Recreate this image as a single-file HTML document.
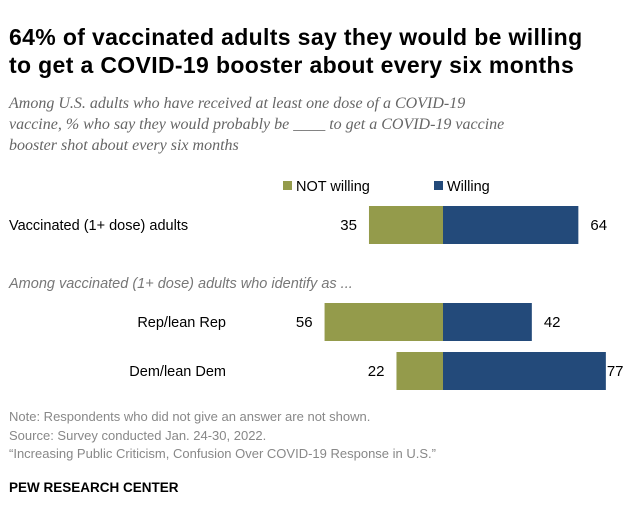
<!DOCTYPE html>
<html><head><meta charset="utf-8"><style>
body{margin:0;background:#fff;font-family:"Liberation Sans",Arial,sans-serif;}
#c{position:relative;width:640px;height:524px;overflow:hidden;}
.t{position:absolute;white-space:nowrap;}
</style></head><body>
<div id="c">
<div class="t" style="left:9px;top:23px;font-size:23px;letter-spacing:0.35px;font-weight:bold;color:#000;line-height:28px;">64% of vaccinated adults say they would be willing<br>to get a COVID-19 booster about every six months</div>
<div class="t" style="left:9px;top:93px;font-size:16px;font-style:italic;color:#666;line-height:21px;font-family:'Liberation Serif',serif;">Among U.S. adults who have received at least one dose of a COVID-19<br>vaccine, % who say they would probably be ____ to get a COVID-19 vaccine<br>booster shot about every six months</div>
<svg id="s" width="640" height="524" style="position:absolute;left:0;top:0;"></svg>
<div class="t" style="left:9px;top:276px;font-size:14.5px;font-style:italic;color:#777;">Among vaccinated (1+ dose) adults who identify as ...</div>
<div class="t" style="left:9px;top:408px;font-size:13px;color:#888;line-height:18.5px;">Note: Respondents who did not give an answer are not shown.<br>Source: Survey conducted Jan. 24-30, 2022.<br>“Increasing Public Criticism, Confusion Over COVID-19 Response in U.S.”</div>
<div class="t" style="left:9px;top:480px;font-size:13.5px;font-weight:bold;color:#000;">PEW RESEARCH CENTER</div>
</div>
<script>
const categories=["Vaccinated (1+ dose) adults","Rep/lean Rep","Dem/lean Dem"];
const notWilling=[35,56,22];
const willing=[64,42,77];
const NS="http://www.w3.org/2000/svg";
const svg=document.getElementById('s');
const center=443, scale=2.115;
const rowTop=[206,303,352], barH=38;
const labelRight=[226,226,226];
function x(v){return v*scale;}
function mk(tag,attrs){const e=document.createElementNS(NS,tag);for(const k in attrs)e.setAttribute(k,attrs[k]);svg.appendChild(e);return e;}
let e=mk('rect',{x:283,y:181,width:9,height:9,fill:'#949b4b'});


e=mk('text',{x:296,y:191,'font-size':14.5,fill:'#000','font-family':'Liberation Sans, sans-serif'});e.textContent='NOT willing';


e=mk('rect',{x:434,y:181,width:9,height:9,fill:'#234a7a'});


e=mk('text',{x:447,y:191,'font-size':14.5,fill:'#000','font-family':'Liberation Sans, sans-serif'});e.textContent='Willing';


categories.forEach((c,i)=>{
  const y=rowTop[i], cy=y+barH/2+5;
  let t=mk('text',{x:i==0?9:labelRight[i],y:cy,'font-size':14.5,fill:'#000','text-anchor':i==0?'start':'end','font-family':'Liberation Sans, sans-serif'});
  t.textContent=c;
  
  
  const wn=x(notWilling[i]);
  let r=mk('rect',{x:center-wn,y:y,width:wn,height:barH,fill:'#949b4b'});
  
  
  const ww=x(willing[i]);
  r=mk('rect',{x:center,y:y,width:ww,height:barH,fill:'#234a7a'});
  
  
  t=mk('text',{x:center-wn-12,y:cy,'font-size':15,fill:'#000','text-anchor':'end','font-family':'Liberation Sans, sans-serif'});
  t.textContent=notWilling[i];
  
  
  t=mk('text',{x:center+ww+(willing[i]>70?1:12),y:cy,'font-size':15,fill:'#000','font-family':'Liberation Sans, sans-serif'});
  t.textContent=willing[i];
  
  
});
</script>
</body></html>
